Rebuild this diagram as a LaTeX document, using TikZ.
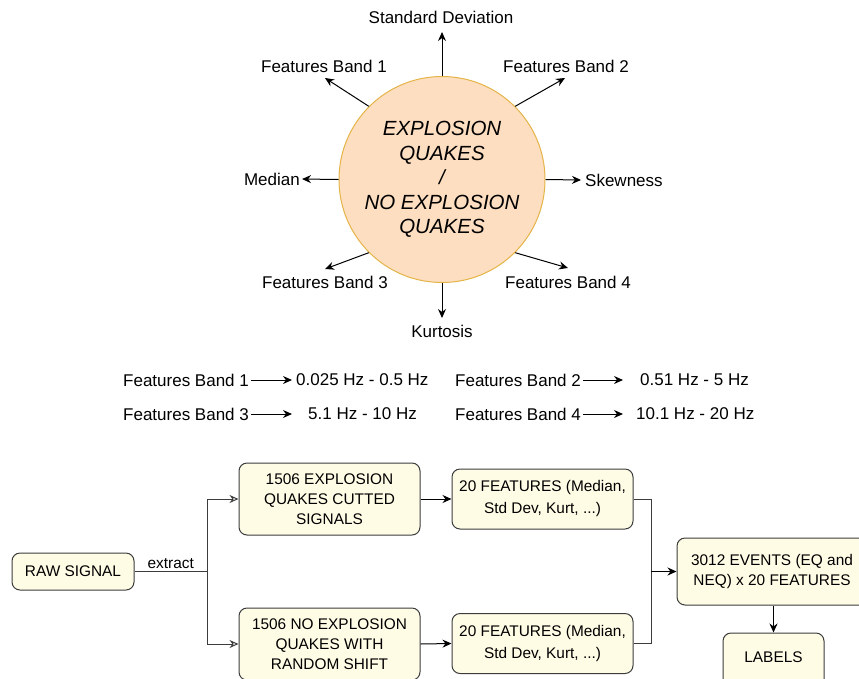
\documentclass[tikz,border=0pt]{standalone}
\usepackage{fontspec}
\setmainfont{Liberation Sans}
\usetikzlibrary{arrows.meta}
\definecolor{circfill}{RGB}{254,222,192}
\definecolor{circdraw}{RGB}{228,180,72}
\definecolor{boxfill}{RGB}{255,252,230}
\definecolor{boxdraw}{RGB}{60,60,60}
\tikzset{
  lbl/.style={font=\fontsize{17}{20}\selectfont, inner sep=0pt},
  arr/.style={-{Stealth[length=9pt,width=8pt]}, line width=1pt, draw=black},
  oarr/.style={-{Stealth[length=9pt,width=8pt,open]}, line width=1pt, draw=boxdraw},
  flow/.style={rounded corners=8pt, draw=boxdraw, line width=1pt, fill=boxfill, align=center,
    font=\fontsize{15.4}{20}\selectfont, inner sep=0pt},
}
\begin{document}
\begin{tikzpicture}[x=1pt,y=-1pt]
\useasboundingbox (0,0) rectangle (859,678);
\clip (0,0) rectangle (859,678);
% central circle
\node[circle, draw=circdraw, line width=1pt, fill=circfill, minimum size=206pt, inner sep=0pt,
  align=center, font=\fontsize{20.5}{24.5}\selectfont\itshape] (c) at (442,179.5)
  {EXPLOSION\\QUAKES\\/\\NO EXPLOSION\\QUAKES};
% labels
\node[lbl] (sd) at (441,17) {Standard Deviation};
\node[lbl] (fb1) at (324,66) {Features Band 1};
\node[lbl] (fb2) at (566,66) {Features Band 2};
\node[lbl, anchor=east] (med) at (300,179) {Median};
\node[lbl, anchor=west] (skw) at (585,180) {Skewness};
\node[lbl] (fb3) at (325,282) {Features Band 3};
\node[lbl] (fb4) at (568,282) {Features Band 4};
\node[lbl] (kur) at (442,331) {Kurtosis};
\coordinate (sdA) at (442,32);
\coordinate (fb1A) at (325,78);
\coordinate (fb2A) at (565,78);
\coordinate (medA) at (302,179);
\coordinate (skwA) at (581,180);
\coordinate (fb3A) at (325,269);
\coordinate (fb4A) at (568,268);
\coordinate (kurA) at (442,318);
\draw[arr] (c.north) -- (sdA);
\draw[arr] (c.135) -- (fb1A);
\draw[arr] (c.45) -- (fb2A);
\draw[arr] (c.west) -- (medA);
\draw[arr] (c.east) -- (skwA);
\draw[arr] (c.225) -- (fb3A);
\draw[arr] (c.-45) -- (fb4A);
\draw[arr] (c.south) -- (kurA);
% band list
\node[lbl, anchor=west] (b1) at (123,380) {Features Band 1};
\node[lbl, anchor=west] (r1) at (296,380) {0.025 Hz - 0.5 Hz};
\node[lbl, anchor=west] (b2) at (455,380) {Features Band 2};
\node[lbl, anchor=west] (r2) at (640,380) {0.51 Hz - 5 Hz};
\node[lbl, anchor=west] (b3) at (123,414) {Features Band 3};
\node[lbl, anchor=west] (r3) at (308,414) {5.1 Hz - 10 Hz};
\node[lbl, anchor=west] (b4) at (455,414) {Features Band 4};
\node[lbl, anchor=west] (r4) at (636,414) {10.1 Hz - 20 Hz};
\coordinate (b1e) at (292,380);
\coordinate (b2e) at (623,380);
\coordinate (b3e) at (292,414);
\coordinate (b4e) at (623,414);
\draw[arr] ([xshift=2pt]b1.east) -- (b1e);
\draw[arr] ([xshift=2pt]b2.east) -- (b2e);
\draw[arr] ([xshift=2pt]b3.east) -- (b3e);
\draw[arr] ([xshift=2pt]b4.east) -- (b4e);
% flowchart
\node[flow, minimum width=122pt, minimum height=37pt] (raw) at (73,571.5) {RAW SIGNAL};
\node[flow, minimum width=181pt, minimum height=72pt] (qa) at (329.5,499) {1506 EXPLOSION\\QUAKES CUTTED\\SIGNALS};
\node[flow, minimum width=181pt, minimum height=72pt] (qb) at (329.5,644) {1506 NO EXPLOSION\\QUAKES WITH\\RANDOM SHIFT};
\node[flow, minimum width=181pt, minimum height=60pt, font=\fontsize{15.4}{22}\selectfont] (fa) at (542.5,499) {20 FEATURES (Median,\\Std Dev, Kurt, ...)};
\node[flow, minimum width=181pt, minimum height=60pt, font=\fontsize{15.4}{22}\selectfont] (fbb) at (542.5,643.5) {20 FEATURES (Median,\\Std Dev, Kurt, ...)};
\node[flow, minimum width=190pt, minimum height=67pt] (ev) at (772,571.5) {3012 EVENTS (EQ and\\NEQ) x 20 FEATURES};
\node[flow, minimum width=101pt, minimum height=60pt] (lab) at (773.5,663) {};
\node[font=\fontsize{15.4}{18}\selectfont] (labt) at (773.5,657) {LABELS};
\coordinate (split) at (207,571.5);
\coordinate (merge) at (651,571.5);
\draw[line width=1pt, draw=boxdraw] (raw.east) -- node[above, font=\fontsize{15.4}{18}\selectfont, inner sep=2pt] {extract} (split);
\draw[oarr] (split) |- (qa.west);
\draw[oarr] (split) |- (qb.west);
\draw[arr] (qa.east) -- (fa.west);
\draw[arr] (qb.east) -- (fbb.west);
\draw[line width=1pt, draw=boxdraw] (fa.east) -| (merge);
\draw[line width=1pt, draw=boxdraw] (fbb.east) -| (merge);
\draw[arr] (merge) -- (ev.west);
\draw[arr] (ev.south -| lab.north) -- (lab.north);
\end{tikzpicture}
\end{document}
